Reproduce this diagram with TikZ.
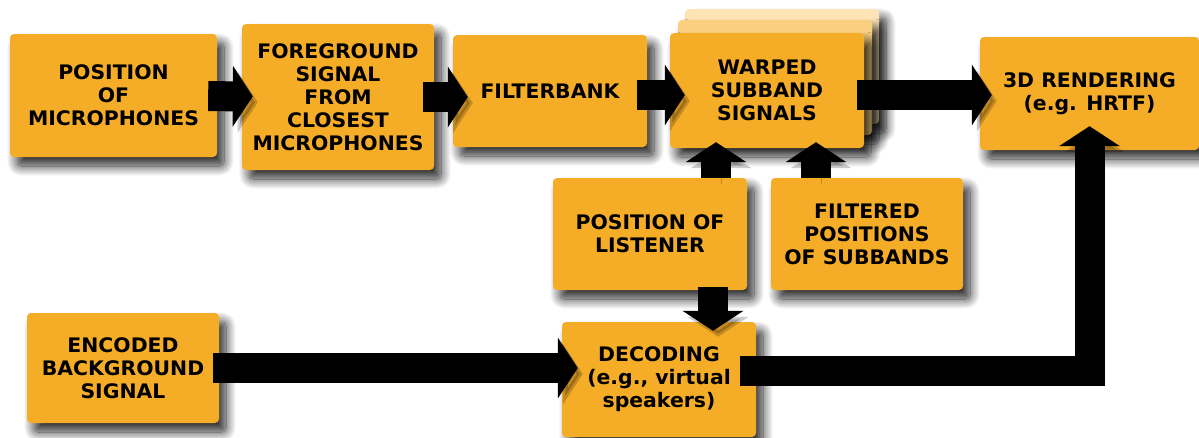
\documentclass[tikz,border=0pt]{standalone}
\usepackage{fontspec}
\newfontfamily\blockfont{DejaVu Sans}[FakeStretch=1.02]
\usepackage{xcolor}
\usetikzlibrary{arrows.meta,shadows.blur}
\definecolor{blockorange}{RGB}{245,173,40}
\definecolor{layermid}{RGB}{250,208,128}
\definecolor{layerback}{RGB}{252,228,182}

\begin{document}
\begin{tikzpicture}[x=1pt,y=-1pt,
	block/.style={fill=blockorange,rounded corners=4pt,align=center,inner sep=0pt,
		font=\blockfont\bfseries\fontsize{20}{23}\selectfont,
		blur shadow={shadow xshift=7pt,shadow yshift=-9pt,shadow blur radius=10pt,
			shadow blur steps=14,shadow opacity=85}},
	bigarrow/.style={line width=30pt,-{Triangle[length=20pt,width=60pt]},
		preaction={draw=black,opacity=0.2,transform canvas={shift={(5pt,-6pt)}}}}]
	\useasboundingbox (0,0) rectangle (1199,437);

	\node[block,minimum width=207pt,minimum height=123pt] (mics) at (113.5,95.5) {POSITION\\OF\\MICROPHONES};
	\node[block,minimum width=192pt,minimum height=146pt] (fg) at (338,97) {FOREGROUND\\SIGNAL\\FROM\\CLOSEST\\MICROPHONES};
	\node[block,minimum width=194pt,minimum height=112pt] (fbank) at (550,91) {FILTERBANK};
	\node[block,fill=layerback,minimum width=194pt,minimum height=115pt] (warpedback) at (782,66.5) {};
	\node[block,fill=layermid,minimum width=194pt,minimum height=115pt] (warpedmid) at (775,77.5) {};
	\node[block,minimum width=194pt,minimum height=115pt] (warped) at (767,90.5) {WARPED\\SUBBAND\\SIGNALS};
	\node[block,minimum width=219pt,minimum height=113pt] (render) at (1089.5,93.5) {3D RENDERING\\(e.g. HRTF)};
	\node[block,minimum width=194pt,minimum height=112pt] (listener) at (650,234) {POSITION OF\\LISTENER};
	\node[block,minimum width=192pt,minimum height=112pt] (filtered) at (867,234) {FILTERED\\POSITIONS\\OF SUBBANDS};
	\node[block,minimum width=192pt,minimum height=110pt] (encoded) at (123,368) {ENCODED\\BACKGROUND\\SIGNAL};
	\node[block,minimum width=194pt,minimum height=115pt] (decoding) at (659,379.5) {DECODING\\(e.g., virtual\\speakers)};

	\draw[bigarrow,shorten <=-9pt,shorten >=-11pt] (mics) -- (fg);
	\draw[bigarrow,shorten <=-11pt,shorten >=-15pt] (fg.east) -- (fg.east -| fbank.west);
	\draw[bigarrow,shorten <=-10pt,shorten >=-15pt] ([yshift=-4pt]fbank.east) -- ([yshift=-4pt]fbank.east -| warped.west);
	\draw[bigarrow,shorten <=-7pt,shorten >=-12pt] ([yshift=-4.5pt]warped.east) -- ([yshift=-4.5pt]warped.east -| render.west);
	\draw[bigarrow,shorten >=-6pt] ([xshift=66pt]listener.north) -- ([xshift=66pt]listener.north |- warped.south);
	\draw[bigarrow,shorten >=-6pt] ([xshift=-51pt]filtered.north) -- ([xshift=-51pt]filtered.north |- warped.south);
	\draw[bigarrow,shorten <=-3pt,shorten >=-9pt] ([xshift=63pt]listener.south) -- ([xshift=63pt]listener.south |- decoding.north);
	\draw[bigarrow,shorten <=-6pt,shorten >=-16pt] (encoded.east) -- (encoded.east -| decoding.west);
	\draw[bigarrow,shorten <=-16pt,shorten >=-24pt] ([yshift=9pt]decoding.east) -| (render.south);
\end{tikzpicture}
\end{document}
